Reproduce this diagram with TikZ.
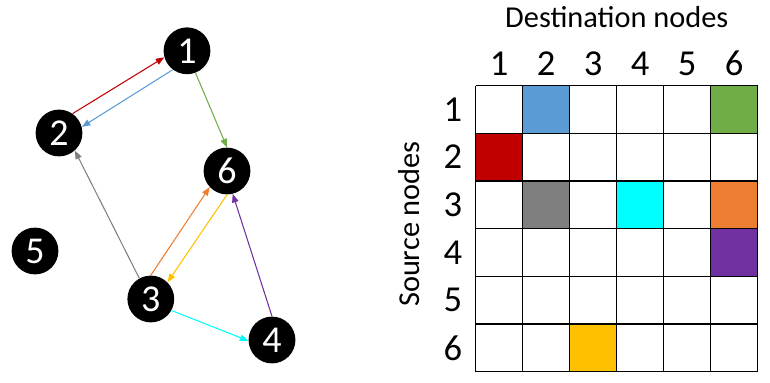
\documentclass[tikz,border=0pt]{standalone}
\usepackage{fontspec}
\setmainfont{Carlito}
\usetikzlibrary{positioning, calc, arrows.meta}
\definecolor{oblue}{RGB}{91,155,213}
\definecolor{ogreen}{RGB}{112,173,71}
\definecolor{ored}{RGB}{192,0,0}
\definecolor{ogray}{RGB}{127,127,127}
\definecolor{ocyan}{RGB}{0,255,255}
\definecolor{oorange}{RGB}{237,125,49}
\definecolor{opurple}{RGB}{112,48,160}
\definecolor{ogold}{RGB}{255,192,0}

\begin{document}
\begin{tikzpicture}[
      vertex/.style={circle, fill=black, text=white, inner sep=0pt, minimum size=1.17cm, font=\fontsize{27}{30}\selectfont},
      idx/.style={font=\fontsize{26}{30}\selectfont, inner sep=0pt},
      title/.style={font=\fontsize{21.6}{24}\selectfont, inner sep=0pt},
      arrow/.style={-{Triangle[length=6pt,width=4.6pt]}, line width=0.75pt}
    ]
    \useasboundingbox (0,0) rectangle (19.25,9.55);

    % Graph (Left)
    \node[vertex] (n1) at (4.675,8.28) {1};
    \node[vertex] (n2) at (1.475,6.225) {2};
    \node[vertex] (n6) at (5.675,5.275) {6};
    \node[vertex] (n5) at (0.875,3.275) {5};
    \node[vertex] (n3) at (3.77,2.075) {3};
    \node[vertex] (n4) at (6.8,1.05) {4};

    % Edges
    \draw[arrow, ored]    (n2.55)  -- (n1.196);
    \draw[arrow, oblue]   (n1.233) -- (n2.15);
    \draw[arrow, ogreen]  (n1.291) -- (n6.90);
    \draw[arrow, ogray]   (n3.119) -- (n2.312);
    \draw[arrow, oorange] (n3.90)  -- (n6.223);
    \draw[arrow, ogold]   (n6.270) -- (n3.45);
    \draw[arrow, opurple] (n4.90)  -- (n6.284);
    \draw[arrow, ocyan]   (n3.331) -- (n4.182);

    % Adjacency matrix (Right)
    \def\cw{1.175}
    \def\ch{1.192}
    \coordinate (corner) at (11.89,7.41);
    \foreach \r/\c/\col in {1/2/oblue, 1/6/ogreen, 2/1/ored, 3/2/ogray, 3/4/ocyan, 3/6/oorange, 4/6/opurple, 6/3/ogold}
      \fill[\col] ($(corner)+({(\c-1)*\cw},{-(\r-1)*\ch})$) rectangle ++(\cw,-\ch);
    \foreach \i in {0,...,6} {
      \draw[line width=0.8pt] ($(corner)+({\i*\cw},0)$) -- ++(0,{-6*\ch});
      \draw[line width=0.8pt] ($(corner)+(0,{-\i*\ch})$) -- ++({6*\cw},0);
    }

    % Labels
    \foreach \i in {1,...,6} {
      \node[idx, anchor=base] (col\i) at ($(corner)+({(\i-0.5)*\cw},0.24)$) {\i};
      \node[idx] (row\i) at ($(corner)+(-0.57,{-(\i-0.5)*\ch})$) {\i};
    }
    \node[title] (dest) at (15.42,9.13) {Destination nodes};
    \node[title, rotate=90] (src) at (10.22,3.95) {Source nodes};

  \end{tikzpicture}
\end{document}
